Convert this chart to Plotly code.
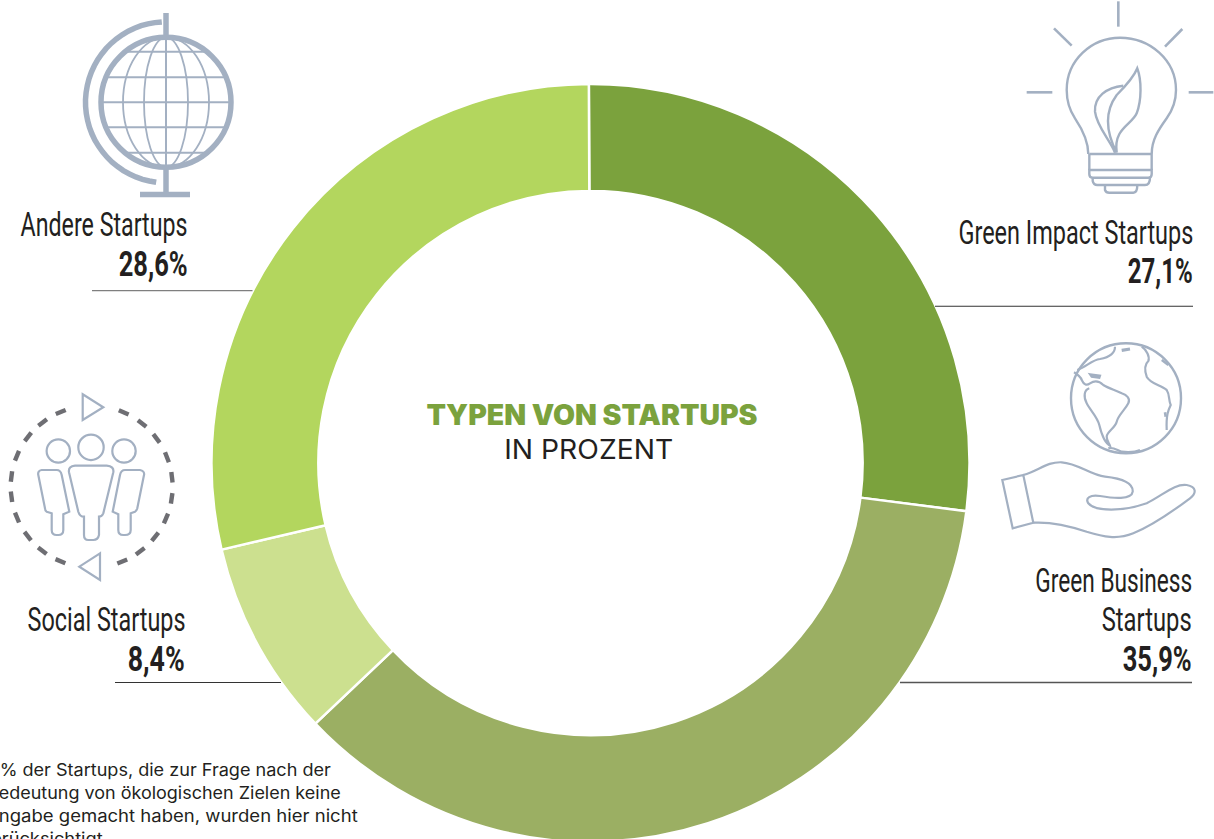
import math, re, json
import plotly.graph_objects as go

W, H = 1214, 860

categories = ["Green Impact Startups", "Green Business Startups", "Social Startups", "Andere Startups"]
values = [27.1, 35.9, 8.4, 28.6]
colors = ["#7BA23D", "#9BAF63", "#CCE08F", "#B3D65E"]

ICON = "#A3B0C2"
DASH = "#6E6E73"
INK = "#231F20"
LABEL_FONT = "Roboto"

R = 379
CX, CY = 590.5, 463
fig = go.Figure(go.Pie(
    labels=categories, values=values, sort=False, direction="clockwise", rotation=-0.25,
    hole=0.718, textinfo="none", hoverinfo="label+value", showlegend=False,
    marker=dict(colors=colors, line=dict(color="white", width=2.5)),
    domain=dict(x=[(CX - R) / W, (CX + R) / W], y=[1 - (CY + R) / H, 1 - (CY - R) / H]),
))

shapes = []

def tr(d, ox, oy):
    """Zoom-crop coordinates (3x) to page pixels."""
    res = []
    for cmd, args in re.findall(r"([MLCZ])([^MLCZ]*)", d):
        res.append(cmd)
        nums = [float(v) for v in re.findall(r"-?\d+\.?\d*", args)]
        for i in range(0, len(nums), 2):
            res.append(f"{nums[i] / 3 + ox:.1f},{nums[i + 1] / 3 + oy:.1f}")
    return " ".join(res)

def path(d, ox=0, oy=0, w=2.0, c=ICON):
    shapes.append(dict(type="path", path=tr(d, ox, oy), xref="x", yref="y",
                       line=dict(color=c, width=w), layer="above"))

def line(x0, y0, x1, y1, w=2.0, c=ICON):
    shapes.append(dict(type="line", x0=x0, y0=y0, x1=x1, y1=y1, xref="x", yref="y",
                       line=dict(color=c, width=w), layer="above"))

def ellipse(cx, cy, rx, ry, w=2.0, c=ICON):
    shapes.append(dict(type="circle", x0=cx - rx, x1=cx + rx, y0=cy - ry, y1=cy + ry,
                       xref="x", yref="y", line=dict(color=c, width=w), layer="above"))

# globe
gx, gy, gr = 166, 102.3, 65
ellipse(gx, gy, gr, gr, 5.5)
for rx in (22, 43):
    ellipse(gx, gy, rx, gr, 1.8)
line(gx, 13, gx, 38, 5.5)
line(gx, gy - gr, gx, gy + gr, 2)
line(gx, 167, gx, 193, 5.5)
line(140, 194.5, 190, 194.5, 5.5)
for yy in (51.7, 77.3, 102.3, 127.3, 152.7):
    dy = yy - gy
    hw = math.sqrt(gr * gr - dy * dy)
    line(gx - hw, yy, gx + hw, yy, 2)
pts = [(166 - 80.5 * math.sin(math.radians(a)), 102.3 - 80.5 * math.cos(math.radians(a))) for a in range(3, 178, 5)]
shapes.append(dict(type="path", xref="x", yref="y", layer="above", line=dict(color=ICON, width=5.5),
                   path="M " + " L ".join(f"{x:.1f},{y:.1f}" for x, y in pts)))

# light bulb
ox, oy = 950, 0
for a in [(505, 4, 505, 80), (312, 85, 365, 137), (697, 87, 645, 140), (230, 277, 307, 277), (716, 277, 790, 277)]:
    line(ox + a[0] / 3, oy + a[1] / 3, ox + a[2] / 3, oy + a[3] / 3, 2.6)
path("M 415,462 C 415,420 395,385 375,355 C 355,325 350,300 350,270 C 350,180 425,113 510,113 "
     "C 600,113 678,180 678,270 C 678,300 668,330 650,355 C 625,390 605,420 605,462", ox, oy, 2.4)
line(ox + 418 / 3, 462 / 3, ox + 605 / 3, 462 / 3, 2.6)
line(ox + 418 / 3, 462 / 3, ox + 418 / 3, 510 / 3, 2.4)
line(ox + 605 / 3, 462 / 3, ox + 605 / 3, 510 / 3, 2.4)
path("M 418,510 L 605,510 L 605,522 C 605,530 600,533 595,533 L 428,533 C 422,533 418,530 418,522 Z", ox, oy, 2.4)
path("M 428,533 L 428,543 C 430,552 436,555 442,555 L 585,555 C 592,555 600,550 600,533", ox, oy, 2.4)
path("M 465,555 L 465,570 C 467,576 472,578 478,578 L 550,578 C 556,578 562,575 562,555", ox, oy, 2.4)
path("M 500,458 C 470,400 460,340 500,285 C 525,260 550,235 562,205 C 575,240 575,300 560,340 "
     "C 545,375 490,385 500,458", ox, oy, 2.4)
path("M 495,458 C 480,420 440,380 435,335 C 432,290 470,262 520,257", ox, oy, 2.4)

# earth and hand
ox, oy = 990, 335
ellipse(1126, 398.3, 55, 55, 2.4)
path("M 252,112 C 262,118 272,125 275,135 C 282,150 290,152 300,145 C 315,135 330,140 340,150 "
     "C 355,160 375,165 395,175 C 410,180 422,190 415,205 C 405,225 385,240 380,260 C 375,280 350,290 350,305 "
     "C 350,318 358,325 360,332 C 345,325 335,300 328,270 C 322,245 300,225 290,205 C 280,185 282,165 298,160", ox, oy, 2.2)
path("M 300,118 L 330,122 L 328,128 L 305,125 Z", ox, oy, 2.2)
path("M 262,105 C 290,95 305,75 330,72 C 350,68 375,60 375,35", ox, oy, 2.2)
path("M 395,46 L 420,42", ox, oy, 3.2)
path("M 455,35 C 470,45 480,65 475,78 C 462,90 465,110 470,125 C 480,145 510,150 530,165 "
     "C 540,180 535,195 542,210 C 535,225 528,240 530,285", ox, oy, 2.2)
path("M 515,75 L 535,90", ox, oy, 2.2)
path("M 525,232 L 527,245", ox, oy, 2.6)
path("M 355,340 C 370,335 380,345 395,350 C 415,352 435,352 450,345", ox, oy, 2.2)
path("M 37,435 L 100,420 L 130,563 L 68,580 Z", ox, oy, 2.2)
path("M 100,420 C 150,405 170,380 215,382 C 265,385 300,420 345,425 C 390,430 430,440 428,470 "
     "C 425,495 370,490 330,483 C 300,478 285,490 295,505 C 315,530 400,530 470,505 "
     "C 520,480 555,445 590,450 C 620,455 620,475 600,490 C 560,520 490,570 430,595 "
     "C 380,615 340,605 290,590 C 230,570 180,560 130,563", ox, oy, 2.2)

# people in dashed ring
ox, oy = 0, 385
cx, cy, r = 275, 305, 243
dash_centres = [(370, 85), (425, 117), (467, 162), (500, 217), (515, 277), (515, 340), (497, 400), (465, 455),
                (420, 498), (367, 530), (183, 83), (130, 115), (87, 158), (53, 213), (37, 275), (37, 335),
                (53, 397), (85, 452), (127, 497), (182, 527)]
for dx, dy in dash_centres:
    a = math.atan2(dy - cy, dx - cx)
    da = 16 / r
    line(ox + (cx + r * math.cos(a - da)) / 3, oy + (cy + r * math.sin(a - da)) / 3,
         ox + (cx + r * math.cos(a + da)) / 3, oy + (cy + r * math.sin(a + da)) / 3, 4.4, DASH)
path("M 248,28 L 310,67 L 248,105 Z", ox, oy, 2.2)
path("M 300,505 L 238,545 L 300,585 Z", ox, oy, 2.2)
ellipse(175 / 3, oy + 198 / 3, 11.7, 11.7, 2.2)
ellipse(273 / 3, oy + 187 / 3, 12.7, 12.7, 2.2)
ellipse(372 / 3, oy + 198 / 3, 11.7, 11.7, 2.2)
path("M 225,242 L 320,242 C 335,243 342,250 340,262 L 310,385 C 307,392 303,395 297,395 L 297,450 "
     "C 295,460 290,465 280,465 L 265,465 C 257,465 252,460 252,450 L 252,395 C 243,395 238,390 235,380 "
     "L 207,262 C 205,250 212,243 225,242 Z", ox, oy, 2.2)
path("M 125,255 L 170,255 C 178,255 183,260 185,270 L 208,380 L 190,388 L 190,435 C 190,445 185,450 175,450 "
     "L 170,450 C 160,450 155,445 155,435 L 155,385 L 140,380 C 136,378 135,375 135,370 L 115,270 "
     "C 113,262 117,256 125,255 Z", ox, oy, 2.2)
path("M 420,255 L 375,255 C 367,255 362,260 360,270 L 338,380 L 355,388 L 355,435 C 355,445 360,450 370,450 "
     "L 375,450 C 387,450 392,445 392,435 L 392,385 L 405,380 C 409,378 410,375 412,370 L 432,270 "
     "C 434,262 428,256 420,255 Z", ox, oy, 2.2)

# leader rules
line(92, 290.7, 252.5, 290.7, 1.3, "#7F7F7F")
line(935, 306.3, 1193, 306.3, 1.1, "#333333")
line(900, 682.5, 1192, 682.5, 1.3, "#555555")
line(115, 682.5, 281, 682.5, 1.1, "#333333")

text_widths = {}

def text(x, y, s, size, width, family=LABEL_FONT, color=INK, anchor="right", weight=400):
    text_widths[s] = width
    fig.add_annotation(x=x / W, y=1 - y / H, xref="paper", yref="paper", text=s, showarrow=False,
                       xanchor=anchor, yanchor="middle", align=anchor,
                       borderpad=0, borderwidth=0,
                       font=dict(family=family, size=size, color=color, weight=weight))

LS, PS = 34, 35
text(188, 224, "Andere Startups", LS, 167)
text(188, 264, "28,6%", PS, 69, weight=700)
text(1193, 232, "Green Impact Startups", LS, 235)
text(1193, 272, "27,1%", PS, 65, weight=700)
text(1192, 580, "Green Business", LS, 157)
text(1192, 619, "Startups", LS, 90)
text(1192, 659, "35,9%", PS, 69, weight=700)
text(186, 619, "Social Startups", LS, 158)
text(185, 659, "8,4%", PS, 57, weight=700)

text(591.5, 415, "TYPEN VON STARTUPS", 28, 331, "Inter", "#7BA23D", "center", 900)
text(588.5, 449, "IN PROZENT", 27, 169, "Inter", INK, "center", 400)

notes = ["4% der Startups, die zur Frage nach der", "Bedeutung von ökologischen Zielen keine",
         "Angabe gemacht haben, wurden hier nicht", "berücksichtigt."]
note_x = [-12, -13, -14, -20]
note_widths = [343, 354, 372, 128]
for i, n in enumerate(notes):
    text(note_x[i], 770 + 23 * i, n, 17, note_widths[i], "Inter", INK, "left")

fig.update_layout(
    width=W, height=H, margin=dict(l=0, r=0, t=0, b=0), paper_bgcolor="white", plot_bgcolor="rgba(0,0,0,0)",
    xaxis=dict(range=[0, W], visible=False, fixedrange=True, domain=[0, 1]),
    yaxis=dict(range=[H, 0], visible=False, fixedrange=True, domain=[0, 1]),
    shapes=shapes,
)
fig.add_trace(go.Scatter(x=[None], y=[None], xaxis="x", yaxis="y", showlegend=False, hoverinfo="skip"))

post = """
document.documentElement.style.overflow='hidden';document.body.style.margin='0';document.body.style.overflow='hidden';
var gd=document.getElementById('{plot_id}');var tw=%s;
function fitText(){gd.querySelectorAll('text.annotation-text').forEach(function(t){var w=tw[t.textContent];
 if(!w)return;t.removeAttribute('transform');var n=t.getComputedTextLength();if(!n)return;
 var x=parseFloat(t.getAttribute('x'))||0;
 t.setAttribute('transform','translate('+x+',0) scale('+(w/n)+',1) translate('+(-x)+',0)');});}
fitText();setTimeout(fitText,0);gd.on('plotly_afterplot',fitText);
""" % json.dumps(text_widths, ensure_ascii=False)

fig.write_html("out.html", config={"displayModeBar": False}, post_script=post)
